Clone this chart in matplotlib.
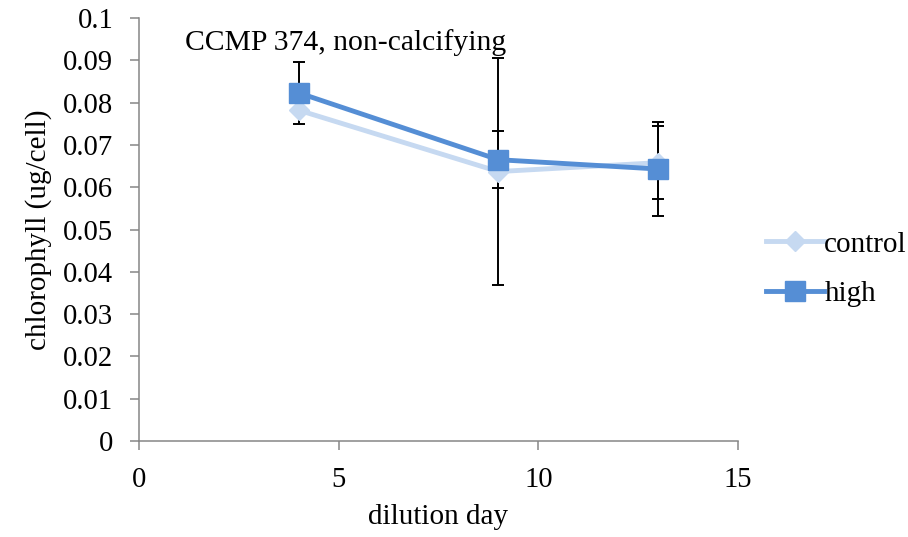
import matplotlib
matplotlib.use("Agg")
import matplotlib.pyplot as plt
from matplotlib.lines import Line2D

plt.rcParams['font.family'] = ['Liberation Serif', 'DejaVu Serif']
plt.rcParams['font.size'] = 21

days = [4, 9, 13]
control = [0.0782, 0.0637, 0.0658]
control_err = [0.0, 0.0268, 0.0087]
high = [0.0823, 0.0665, 0.0643]
high_err = [0.0074, 0.0068, 0.0111]

c_ctrl = '#C6D9F1'
c_high = '#558ED5'

fig = plt.figure(figsize=(9.08, 5.37), dpi=100)
ax = fig.add_axes([139 / 908, 1 - 441 / 537, 599 / 908, 423 / 537])

# error bars under the lines and markers
ax.errorbar(days, control, yerr=control_err, fmt='none', ecolor='black',
            elinewidth=1.4, capsize=4.3, capthick=1.4, zorder=1)
ax.errorbar(days, high, yerr=high_err, fmt='none', ecolor='black',
            elinewidth=1.4, capsize=4.3, capthick=1.4, zorder=1)

ax.plot(days, control, color=c_ctrl, lw=3.5, marker='D', markersize=10, zorder=2)
ax.plot(days, high, color=c_high, lw=3.5, marker='s', markersize=14.5, zorder=3)

ax.set_xlim(0, 15)
ax.set_ylim(0, 0.1)
ax.set_xticks([0, 5, 10, 15])
ax.set_yticks([i / 100 for i in range(11)])
ax.set_yticklabels(['0'] + ['%g' % (i / 100) for i in range(1, 11)])
for s in ['top', 'right']:
    ax.spines[s].set_visible(False)
for s in ['left', 'bottom']:
    ax.spines[s].set_color('#868686')
    ax.spines[s].set_linewidth(1.1)
ax.tick_params(colors='#868686', labelcolor='black', length=6.5, width=1.1,
               pad=12, labelsize=20.6)

ax.set_xlabel('dilution day')
ax.set_ylabel('chlorophyll (ug/cell)')
ax.xaxis.set_label_coords(0.5, -0.15)
ax.yaxis.set_label_coords(-0.145, 0.5)
ax.text(1.15, 0.0941, 'CCMP 374, non-calcifying', va='center', fontsize=21.3)

handles = [Line2D([], [], color=c_ctrl, lw=3.5, marker='D', markersize=10),
           Line2D([], [], color=c_high, lw=3.5, marker='s', markersize=14.5)]
fig.legend(handles, ['control', 'high'], loc='center left',
           bbox_to_anchor=(766 / 908, 1 - 269 / 537), frameon=False,
           borderpad=0, borderaxespad=0, handlelength=2.0, handletextpad=0.0,
           labelspacing=0.78)

fig.savefig('out.png', dpi=100)
